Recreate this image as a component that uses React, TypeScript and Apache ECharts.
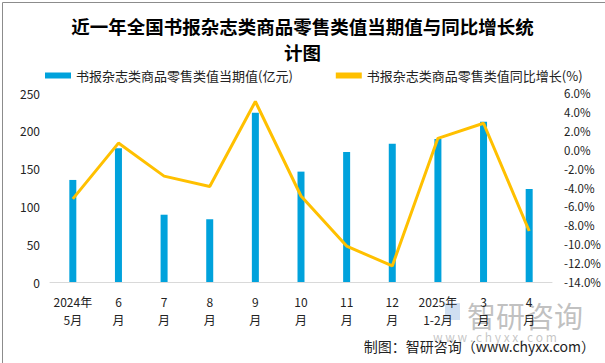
import React, { useEffect, useRef } from "react";
import * as echarts from "echarts";

const categories = ["2024年\n5月", "6\n月", "7\n月", "8\n月", "9\n月", "10\n月", "11\n月", "12\n月", "2025年\n1-2月", "3\n月", "4\n月"];
const currentValues = [135, 177, 89, 83, 224, 146, 172, 183, 189, 212, 123];
const yoyGrowth = [-5.2, 0.7, -2.8, -3.9, 5.1, -4.9, -10.2, -12.3, 1.2, 2.8, -8.6];
const barName = "书报杂志类商品零售类值当期值(亿元)";
const lineName = "书报杂志类商品零售类值同比增长(%)";

const FONT = "'Noto Sans CJK SC', 'Microsoft YaHei', sans-serif";

export default function App() {
  const ref = useRef<HTMLDivElement>(null);
  useEffect(() => {
    if (!ref.current) return;
    const chart = echarts.init(ref.current, undefined, { renderer: "svg" });
    chart.setOption({
      animation: false,
      backgroundColor: "#ffffff",
      textStyle: { fontFamily: FONT },
      title: {
        text: "近一年全国书报杂志类商品零售类值当期值与同比增长统\n计图",
        left: "center",
        top: 8,
        textStyle: { fontSize: 18.5, fontWeight: "bold", color: "#000", lineHeight: 26, fontFamily: FONT },
      },
      legend: {
        top: 64,
        left: 40,
        itemGap: 43,
        itemWidth: 26,
        itemHeight: 6,
        textStyle: { fontSize: 13, color: "#222", fontFamily: FONT },
        data: [
          { name: barName, icon: "rect" },
          { name: lineName, icon: "rect", itemStyle: { color: "#FFC000" } },
        ],
      },
      grid: { left: 50, right: 53, top: 93, bottom: 81, containLabel: false },
      xAxis: {
        type: "category",
        data: categories,
        axisLine: { show: true, lineStyle: { color: "#d9d9d9" } },
        axisTick: { show: false },
        axisLabel: { fontSize: 12, color: "#222", lineHeight: 18, margin: 10, interval: 0, fontFamily: FONT },
      },
      yAxis: [
        {
          type: "value",
          min: 0,
          max: 250,
          interval: 50,
          splitLine: { show: false },
          axisLine: { show: false },
          axisTick: { show: false },
          axisLabel: { fontSize: 12, color: "#222", margin: 10 },
        },
        {
          type: "value",
          min: -14,
          max: 6,
          interval: 2,
          position: "right",
          splitLine: { show: false },
          axisLine: { show: false },
          axisTick: { show: false },
          axisLabel: { fontSize: 11.5, color: "#222", margin: 12, formatter: (v: number) => v.toFixed(1) + "%" },
        },
      ],
      series: [
        {
          name: barName,
          type: "bar",
          data: currentValues,
          barWidth: 7,
          itemStyle: { color: "#00A2DC" },
        },
        {
          name: lineName,
          type: "line",
          yAxisIndex: 1,
          data: yoyGrowth,
          symbol: "none",
          lineStyle: { color: "#FFC000", width: 3 },
          itemStyle: { color: "#FFC000" },
        },
      ],
      graphic: [
        {
          type: "rect",
          left: 0,
          top: 0,
          shape: { width: 604, height: 362 },
          style: { fill: "none", stroke: "#8c8c8c", lineWidth: 1 },
          silent: true,
        },
        {
          type: "rect",
          left: 445,
          top: 303,
          shape: { width: 15, height: 17 },
          style: { fill: "rgba(150,185,225,0.45)" },
          silent: true,
        },
        {
          type: "text",
          left: 467,
          top: 300,
          style: { text: "智研咨询", fontSize: 29, fill: "rgba(140,140,140,0.55)", fontFamily: FONT },
          silent: true,
        },
        {
          type: "text",
          left: 433,
          top: 330,
          style: { text: "w w w . c h y x x . c o m", fontSize: 12, fill: "rgba(150,150,150,0.55)", fontFamily: FONT },
          silent: true,
        },
        {
          type: "text",
          right: 10,
          top: 339,
          style: { text: "制图：智研咨询（www.chyxx.com）", fontSize: 14, fill: "#222", fontFamily: FONT },
          silent: true,
        },
      ],
    });
    return () => chart.dispose();
  }, []);
  return <div ref={ref} style={{ position: "absolute", left: 0, top: 0, width: 605, height: 363 }} />;
}
